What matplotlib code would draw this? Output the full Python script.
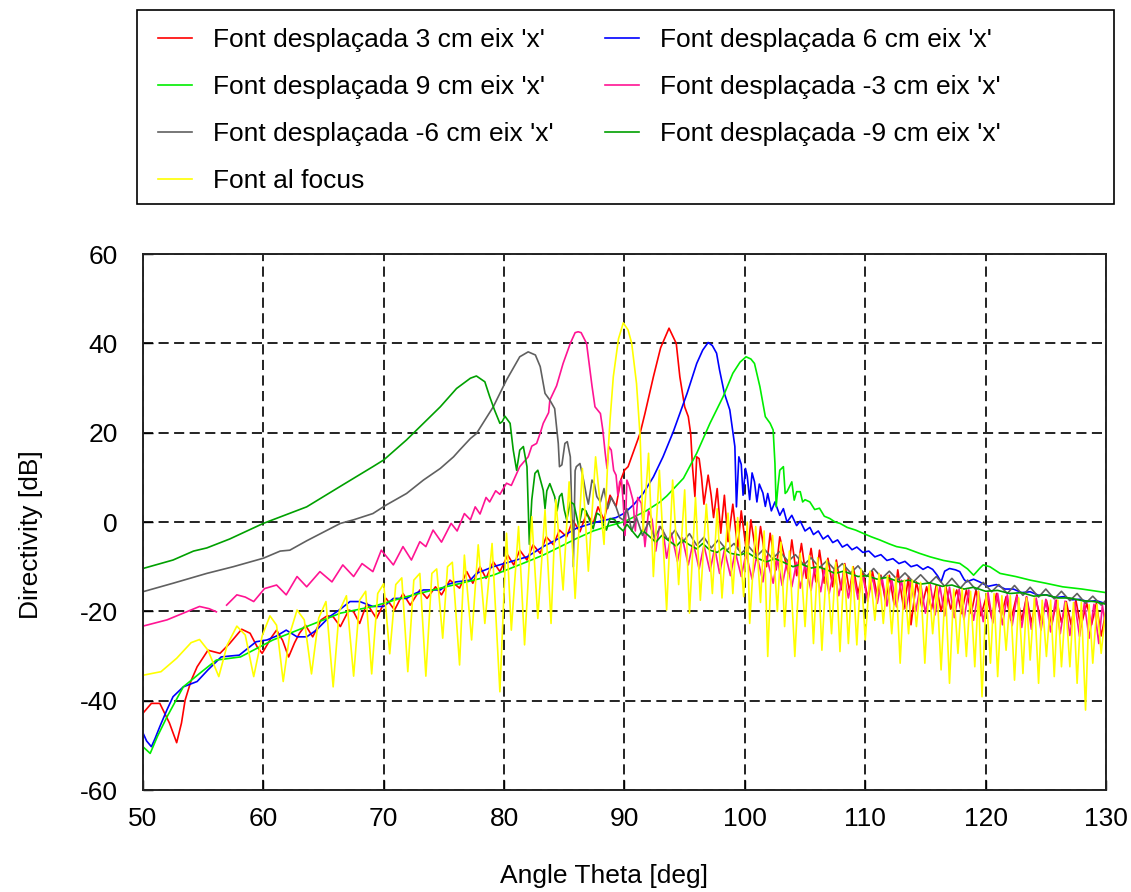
import numpy as np
import matplotlib
matplotlib.use("Agg")
import matplotlib.pyplot as plt
from matplotlib.patches import Rectangle

plt.rcParams['font.family'] = ['Liberation Sans', 'DejaVu Sans']
plt.rcParams['axes.unicode_minus'] = False

# (angle theta [deg], directivity [dB])
red_pts = [(50.0, -42.8), (50.7, -40.6), (51.4, -40.6), (52.2, -45.0), (52.8, -49.4), (53.2, -45.0),
           (53.5, -39.9), (54.0, -35.5), (54.5, -32.4), (55.4, -28.7), (56.4, -29.4), (57.2, -27.2),
           (58.2, -24.0), (58.9, -24.9), (59.5, -28.0), (59.9, -29.4), (60.7, -25.7), (61.1, -24.2),
           (61.6, -26.5), (62.1, -30.2), (62.6, -27.0), (63.0, -24.9), (63.5, -23.1), (64.1, -25.7),
           (64.8, -21.9), (65.3, -21.0), (65.8, -21.2), (66.4, -23.4), (67.1, -19.7), (67.5, -20.1),
           (68.0, -22.7), (68.6, -18.2), (69.4, -21.6), (70.2, -17.1), (70.9, -19.7), (71.6, -16.0),
           (72.2, -18.6), (73.0, -15.2), (73.6, -17.1), (74.3, -14.5), (74.8, -16.3), (75.5, -13.0),
           (76.3, -14.8), (76.9, -11.1), (77.4, -13.7), (78.0, -10.0), (78.5, -12.6), (79.1, -8.9),
           (79.65, -11.1), (80.3, -7.4), (80.8, -9.6), (81.3, -6.3), (81.9, -8.5), (82.4, -5.1),
           (83.0, -7.0), (83.5, -3.3), (84.1, -5.1), (84.6, -1.8), (85.2, -3.3), (85.7, 0.4),
           (86.3, -2.2), (86.85, 1.9), (87.4, -0.3), (87.8, 3.4), (88.3, 0.5), (88.8, 6.0),
           (89.3, 3.5), (89.7, 9.5), (90.0, 11.6), (90.3, 12.4), (90.7, 15.4), (91.3, 19.9),
           (91.7, 24.3), (92.4, 32.5), (93.0, 39.0), (93.7, 43.4), (94.3, 40.0), (94.6, 32.5),
           (95.0, 25.8), (95.3, 23.6), (95.5, 19.8), (95.65, 12.4), (95.85, 5.7), (96.0, 14.6),
           (96.2, 14.2), (96.4, 10.1), (96.6, 4.0), (96.95, 10.5), (97.2, 6.0), (97.4, 1.0),
           (97.7, 7.5), (98.0, -2.5), (98.3, 6.0), (98.6, -4.4), (99.0, 4.0), (99.4, -6.0),
           (99.7, 2.5), (100.2, -8.1), (100.5, 0.5), (101.0, -8.5), (101.3, -1.0), (101.8, -10.0),
           (102.1, -2.5), (102.6, -10.7), (102.9, -3.3), (103.6, -11.5), (103.9, -4.0), (104.3, -12.0),
           (104.7, -4.8), (105.1, -12.6), (105.5, -5.9), (105.9, -13.4), (106.2, -6.3), (106.6, -13.7),
           (106.9, -8.1), (107.3, -14.5), (107.6, -8.5), (108.0, -15.2), (108.3, -9.3), (108.7, -15.6),
           (109.0, -10.0), (109.4, -16.0), (109.8, -11.1), (110.2, -17.0), (110.6, -11.1), (111.0, -16.5),
           (111.3, -11.9), (111.7, -18.0), (112.0, -11.9), (112.4, -18.5), (112.7, -10.7), (113.2, -19.5),
           (113.6, -12.2), (113.8, -23.0), (114.25, -13.4), (114.7, -19.0), (115.1, -14.5), (115.5, -19.5),
           (115.9, -14.1), (116.3, -20.0), (116.7, -14.5), (117.1, -19.5), (117.6, -15.2), (118.0, -20.5),
           (118.4, -15.2), (118.8, -20.5), (119.2, -15.2), (119.6, -21.0), (120.1, -16.3), (120.5, -21.5),
           (120.9, -16.0), (121.3, -21.0), (121.7, -16.7), (122.1, -22.0), (122.6, -16.3), (123.0, -22.0),
           (123.4, -16.7), (123.8, -22.5), (124.2, -17.5), (124.6, -22.0), (125.05, -17.5), (125.5, -23.0),
           (125.9, -17.5), (126.3, -22.5), (126.7, -17.8), (127.1, -23.0), (127.5, -17.5), (127.9, -23.5),
           (128.4, -18.2), (128.8, -23.0), (129.2, -18.2), (129.6, -25.5), (130.0, -20.0)]

blue_pts = [(50.0, -47.2), (50.3, -49.0), (50.7, -50.3), (51.0, -48.5), (51.4, -45.8), (52.0, -42.0),
            (52.5, -39.1), (53.35, -36.9), (54.5, -35.7), (55.4, -33.1), (56.5, -30.2), (57.2, -30.0),
            (58.0, -29.8), (59.4, -26.8), (60.3, -26.4), (61.1, -25.5), (61.9, -24.2), (62.8, -25.7),
            (63.6, -25.7), (64.4, -24.2), (65.5, -21.2), (66.4, -19.5), (67.2, -17.8), (68.0, -17.8),
            (69.1, -18.9), (70.0, -18.9), (70.8, -17.1), (71.9, -17.1), (72.6, -16.0), (73.3, -15.2),
            (74.7, -15.2), (75.3, -14.0), (76.0, -13.4), (77.2, -13.0), (77.7, -11.5), (79.1, -10.0),
            (80.5, -8.9), (81.9, -7.8), (83.25, -5.5), (84.6, -3.6), (86.0, -1.4), (87.4, -0.2),
            (88.5, 0.5), (89.3, 1.0), (90.0, 2.0), (90.8, 4.0), (91.55, 6.4), (92.4, 10.1),
            (93.2, 14.6), (94.05, 20.2), (94.6, 24.3), (95.2, 28.8), (96.0, 35.5), (96.5, 38.5),
            (96.95, 40.2), (97.3, 39.5), (97.65, 37.8), (97.9, 34.0), (98.3, 28.8), (98.75, 25.1),
            (98.98, 20.6), (99.17, 16.9), (99.3, 3.4), (99.5, 14.6), (99.7, 12.9), (99.85, 6.0),
            (100.05, 12.0), (100.2, 10.2), (100.4, 5.0), (100.6, 11.0), (100.8, 9.0), (101.0, 4.5),
            (101.2, 8.5), (101.5, 6.5), (101.7, 3.5), (101.9, 6.4), (102.2, 2.5), (102.5, 4.5),
            (102.9, 1.5), (103.2, 3.0), (103.5, 0.0), (103.9, 1.5), (104.3, -0.8), (104.6, 0.2),
            (105.0, -2.0), (105.4, -1.2), (105.7, -2.8), (106.1, -2.0), (106.5, -3.8), (106.9, -3.0),
            (107.3, -4.6), (107.7, -4.0), (108.1, -5.6), (108.5, -5.0), (108.9, -6.2), (109.3, -5.6),
            (109.8, -6.8), (110.3, -6.5), (110.8, -7.8), (111.3, -7.3), (111.8, -8.6), (112.3, -8.2),
            (112.8, -9.3), (113.3, -8.8), (113.8, -10.0), (114.3, -9.6), (114.8, -10.6), (115.2, -10.0),
            (115.6, -10.6), (116.0, -12.0), (116.3, -13.4), (116.6, -11.0), (117.0, -10.4), (117.5, -10.7),
            (117.85, -11.1), (118.2, -12.8), (118.4, -13.4), (119.0, -12.8), (119.5, -13.4), (120.2, -14.4),
            (120.9, -14.0), (121.6, -15.0), (122.3, -15.0), (123.0, -15.8), (123.7, -15.6), (124.4, -16.4),
            (125.05, -16.3), (125.8, -16.9), (126.5, -16.7), (127.2, -17.4), (127.8, -17.3), (128.5, -17.8),
            (129.2, -17.6), (130.0, -18.3)]

green_pts = [(50.0, -50.3), (50.6, -51.8), (51.2, -48.0), (52.0, -43.6), (53.35, -36.9), (54.7, -33.9),
             (56.1, -30.9), (58.1, -30.2), (60.8, -26.4), (63.6, -23.4), (66.4, -20.4), (69.1, -18.9),
             (71.9, -16.7), (74.7, -14.8), (77.2, -13.2), (79.1, -11.9), (80.5, -10.4), (81.9, -8.9),
             (83.25, -7.4), (84.6, -5.6), (86.0, -3.7), (87.4, -2.0), (88.8, -0.8), (90.0, 0.1),
             (91.8, 2.5), (92.9, 4.4), (93.5, 5.8), (94.9, 9.8), (96.0, 15.4), (97.1, 22.1),
             (98.2, 28.1), (99.0, 33.3), (99.6, 35.8), (100.1, 37.0), (100.5, 36.5), (100.8, 35.5),
             (101.25, 30.3), (101.7, 23.6), (102.1, 22.1), (102.35, 20.6), (102.5, 13.1), (102.6, 3.4),
             (102.75, 8.0), (102.9, 11.6), (103.2, 12.4), (103.35, 6.4), (103.5, 6.8), (103.9, 9.0),
             (104.1, 4.9), (104.3, 6.8), (104.6, 6.8), (104.8, 4.5), (105.0, 5.0), (105.4, 4.5),
             (105.8, 2.8), (106.2, 3.1), (106.6, 1.3), (107.05, 0.8), (107.5, 0.0), (107.9, -0.3),
             (108.5, -1.2), (109.2, -1.8), (109.8, -2.5), (110.5, -3.3), (111.2, -4.0), (112.0, -4.9),
             (112.6, -5.5), (113.4, -5.9), (114.5, -7.0), (115.4, -7.8), (116.5, -8.6), (117.85, -9.25),
             (118.5, -10.5), (119.0, -11.9), (119.5, -10.4), (119.8, -9.6), (120.35, -10.0), (121.2, -11.5),
             (122.5, -12.2), (123.7, -13.0), (125.0, -13.7), (126.4, -14.5), (128.0, -15.0), (130.0, -15.8)]

pink_pts = [(50.0, -23.3), (51.0, -22.6), (52.0, -21.9), (53.35, -20.4), (54.7, -18.9), (55.5, -19.4),
            (56.1, -20.1), (56.6, float('nan')), (56.95, -18.6), (57.8, -16.3), (58.5, -16.8), (59.2, -17.8),
            (60.1, -14.9), (61.1, -14.1), (61.9, -16.3), (62.8, -12.2), (63.6, -14.5), (64.7, -11.1),
            (65.7, -13.4), (66.6, -9.6), (67.5, -12.2), (68.2, -9.3), (69.1, -11.1), (69.8, -6.3),
            (70.8, -9.6), (71.6, -5.5), (72.3, -8.5), (73.0, -4.4), (73.5, -5.5), (74.1, -1.8),
            (74.8, -4.5), (75.6, -0.3), (76.1, -2.0), (76.7, 1.9), (77.2, 0.5), (77.6, 3.4),
            (78.0, 1.8), (78.5, 5.5), (78.8, 4.5), (79.3, 7.0), (79.65, 6.2), (80.2, 8.7),
            (80.6, 8.2), (81.3, 12.4), (82.0, 14.6), (82.3, 17.0), (82.7, 17.6), (83.0, 19.9),
            (83.25, 22.1), (83.7, 24.5), (83.8, 27.3), (84.36, 30.5), (84.9, 35.5), (85.5, 40.0),
            (85.9, 42.4), (86.15, 42.6), (86.4, 42.4), (86.85, 40.0), (87.1, 34.8), (87.3, 30.5),
            (87.55, 25.8), (88.0, 24.3), (88.2, 20.6), (88.4, 15.4), (88.55, 12.0), (88.7, 16.9),
            (88.9, 16.1), (89.1, 11.6), (89.3, 10.5), (89.45, 6.0), (89.6, 9.0), (89.75, 9.5),
            (89.9, 4.2), (90.05, -3.0), (90.2, 9.4), (90.4, 8.0), (90.7, 4.9), (90.9, -2.0),
            (91.1, 5.5), (91.4, 4.2), (91.7, -5.5), (92.0, 2.5), (92.3, 0.5), (92.6, -6.5),
            (92.9, -1.0), (93.2, -1.8), (93.5, -8.1), (93.9, -2.5), (94.4, -8.8), (94.8, -3.5),
            (95.3, -9.6), (95.7, -4.5), (96.2, -10.5), (96.6, -5.2), (97.1, -11.0), (97.5, -5.8),
            (97.9, -11.5), (98.3, -6.2), (98.8, -12.0), (99.2, -6.6), (99.7, -12.2), (100.1, -7.0),
            (100.6, -12.8), (101.0, -7.4), (101.5, -13.4), (101.8, -7.7), (102.35, -13.7), (102.7, -8.2),
            (103.1, -14.2), (103.5, -8.7), (103.9, -14.5), (104.3, -9.0), (104.6, -14.8), (105.0, -9.5),
            (105.5, -15.3), (105.8, -10.0), (106.3, -15.6), (106.6, -10.4), (107.0, -16.0), (107.4, -10.8),
            (107.8, -16.5), (108.2, -11.3), (108.6, -17.0), (109.0, -11.6), (109.4, -17.3), (109.8, -12.0),
            (110.2, -17.8), (110.6, -12.2), (111.0, -18.2), (111.4, -12.5), (111.8, -18.8), (112.2, -12.8),
            (112.6, -19.0), (113.0, -13.0), (113.4, -19.4), (113.8, -13.4), (114.2, -20.0), (114.6, -13.8),
            (115.0, -20.4), (115.4, -14.0), (115.8, -20.8), (116.2, -14.3), (116.6, -21.0), (117.0, -14.6),
            (117.4, -21.4), (117.8, -15.0), (118.2, -21.8), (118.6, -15.2), (119.0, -22.0), (119.4, -15.5),
            (119.8, -22.3), (120.2, -15.8), (120.6, -22.6), (121.0, -16.0), (121.4, -23.0), (121.8, -16.3),
            (122.2, -23.2), (122.6, -16.6), (123.0, -23.6), (123.4, -16.8), (123.8, -24.0), (124.2, -17.0),
            (124.6, -24.2), (125.0, -17.3), (125.4, -24.6), (125.8, -17.5), (126.2, -25.0), (126.6, -17.7),
            (127.0, -25.4), (127.4, -18.0), (127.8, -25.6), (128.2, -18.2), (128.6, -26.0), (129.0, -18.4),
            (129.4, -27.2), (129.7, -18.6), (130.0, -24.0)]

grey_pts = [(50.0, -15.6), (52.5, -13.7), (55.3, -11.5), (57.5, -10.0), (60.0, -8.1), (61.4, -6.5),
            (62.2, -6.3), (63.6, -4.2), (66.4, -0.3), (67.5, 0.5), (69.1, 1.9), (70.2, 3.8),
            (71.9, 6.4), (73.3, 9.4), (74.7, 12.0), (75.8, 14.6), (76.3, 16.1), (77.2, 18.7),
            (77.7, 19.8), (79.1, 25.8), (80.2, 31.8), (81.3, 37.0), (82.0, 38.1), (82.6, 37.4),
            (83.0, 34.8), (83.4, 28.8), (83.8, 27.3), (84.2, 25.4), (84.5, 17.6), (84.6, 12.4),
            (84.8, 12.8), (85.05, 17.6), (85.25, 18.0), (85.5, 14.6), (85.75, -10.0), (85.9, 11.5),
            (86.0, 12.4), (86.3, 13.1), (86.6, 9.4), (86.85, 5.7), (87.0, 4.0), (87.3, 9.4),
            (87.5, 8.5), (87.7, 5.7), (88.0, 4.5), (88.3, 7.5), (88.6, 3.0), (88.9, 5.5),
            (89.3, 3.4), (89.6, 1.0), (89.9, 0.45), (90.2, 3.0), (90.6, -2.0), (91.0, 1.0),
            (91.5, -3.0), (92.0, 0.0), (92.5, -3.5), (93.0, -1.0), (93.6, -4.0), (94.2, -1.8),
            (94.8, -4.6), (95.4, -2.6), (96.0, -5.2), (96.6, -3.4), (97.2, -5.8), (97.8, -4.0),
            (98.5, -6.3), (99.1, -4.8), (99.7, -7.0), (100.3, -5.4), (101.0, -7.6), (101.6, -6.0),
            (102.3, -8.2), (102.9, -6.6), (103.6, -8.8), (104.2, -7.3), (104.9, -9.6), (105.5, -8.0),
            (106.2, -10.2), (106.8, -8.7), (107.5, -10.8), (108.1, -9.3), (108.8, -11.4), (109.4, -9.8),
            (110.1, -12.2), (110.7, -10.4), (111.4, -12.6), (112.0, -11.0), (112.7, -13.0), (113.3, -11.4),
            (114.0, -13.4), (114.6, -11.8), (115.3, -13.8), (115.9, -12.2), (116.6, -14.4), (117.2, -12.6),
            (117.9, -14.8), (118.5, -13.0), (119.2, -15.2), (119.8, -13.5), (120.5, -15.6), (121.1, -14.0),
            (121.8, -16.0), (122.4, -14.2), (123.1, -16.4), (123.7, -14.6), (124.4, -16.8), (125.0, -15.0),
            (125.7, -17.2), (126.3, -15.5), (127.0, -17.6), (127.6, -16.0), (128.3, -18.2), (128.9, -16.6),
            (129.6, -18.6), (130.0, -17.5)]

dkgreen_pts = [(50.0, -10.4), (52.5, -8.5), (54.2, -6.5), (55.3, -5.8), (57.2, -3.8), (60.0, -0.3),
               (63.6, 3.4), (66.4, 8.0), (69.1, 12.4), (70.0, 13.9), (71.9, 18.4), (73.3, 22.1),
               (74.7, 25.8), (76.05, 29.9), (77.2, 32.2), (77.7, 32.7), (78.4, 31.4), (78.8, 28.1),
               (79.2, 25.1), (79.65, 22.1), (79.85, 22.5), (80.07, 23.7), (80.5, 22.1), (80.76, 16.1),
               (81.04, 11.6), (81.3, 16.1), (81.6, 16.9), (81.9, 12.4), (82.1, -5.0), (82.3, 5.0),
               (82.56, 10.9), (82.8, 11.6), (83.25, 7.1), (83.4, 3.0), (83.55, 7.0), (83.8, 8.6),
               (84.2, 5.7), (84.4, 2.5), (84.6, 5.7), (84.8, 6.4), (85.0, 2.7), (85.2, 0.5),
               (85.5, 4.5), (85.8, 4.0), (86.0, 1.5), (86.2, -1.0), (86.5, 3.0), (86.8, 2.5),
               (87.1, 0.45), (87.4, -1.5), (87.7, 2.0), (88.0, 1.5), (88.2, -0.3), (88.5, -1.8),
               (88.8, 0.8), (89.2, 0.5), (89.5, -1.0), (89.9, -2.0), (90.2, -0.5), (90.7, -2.2),
               (91.1, -3.5), (91.5, -1.8), (92.1, -3.3), (92.6, -4.5), (93.1, -3.0), (93.8, -4.4),
               (94.3, -5.4), (94.8, -4.0), (95.4, -5.1), (96.0, -6.0), (96.5, -4.8), (97.1, -6.3),
               (97.7, -6.8), (98.2, -5.8), (98.8, -7.0), (99.6, -7.4), (100.2, -6.8), (100.9, -8.0),
               (101.8, -8.9), (102.5, -8.2), (103.2, -9.0), (104.0, -10.0), (104.7, -9.4), (105.5, -10.3),
               (106.1, -10.0), (106.8, -10.7), (107.5, -11.5), (108.2, -11.0), (109.4, -12.2), (110.1, -12.0),
               (111.0, -12.8), (111.8, -12.4), (112.8, -13.4), (113.6, -13.0), (114.6, -13.9), (115.4, -13.6),
               (116.4, -14.4), (117.2, -14.1), (118.2, -15.0), (119.0, -14.6), (120.0, -15.5), (121.0, -15.3),
               (122.0, -16.0), (123.0, -15.8), (124.0, -16.6), (125.0, -16.3), (126.0, -17.0), (127.0, -17.0),
               (128.0, -17.6), (129.0, -17.8), (130.0, -18.4)]

yellow_pts = [(50.0, -34.3), (51.5, -33.5), (52.8, -30.5), (54.0, -27.0), (54.7, -26.3), (55.4, -28.7),
              (56.3, -34.6), (57.0, -27.5), (57.8, -23.3), (58.5, -25.3), (59.2, -34.6), (59.9, -25.5),
              (60.55, -21.0), (61.1, -23.1), (61.65, -35.7), (62.2, -25.0), (62.8, -19.7), (63.4, -21.9),
              (64.0, -34.0), (64.6, -21.5), (65.2, -17.8), (65.8, -36.9), (66.3, -20.0), (66.9, -16.5),
              (67.5, -34.5), (68.0, -17.5), (68.5, -15.5), (69.0, -34.0), (69.5, -16.0), (70.0, -13.8),
              (70.5, -29.5), (71.0, -14.0), (71.5, -12.5), (72.0, -33.5), (72.5, -13.0), (73.0, -11.5),
              (73.5, -34.5), (74.0, -11.5), (74.4, -10.5), (74.9, -26.0), (75.3, -10.0), (75.7, -9.0),
              (76.3, -32.0), (76.7, -7.4), (77.3, -26.4), (77.85, -5.1), (78.4, -22.7), (79.0, -4.8),
              (79.65, -38.0), (80.2, -2.5), (80.6, -24.2), (81.2, -1.0), (81.7, -27.5), (82.3, 1.2),
              (82.8, -21.6), (83.4, 2.7), (83.9, -22.7), (84.3, 5.0), (84.9, -15.2), (85.4, 9.0),
              (85.9, -17.1), (86.5, 12.0), (87.0, -11.0), (87.6, 14.6), (88.3, -5.0), (88.65, 16.1),
              (88.8, 22.8), (89.07, 32.5), (89.5, 41.0), (89.9, 44.6), (90.3, 43.0), (90.6, 40.0),
              (91.0, 31.0), (91.3, 19.1), (91.55, -2.0), (92.0, 15.4), (92.4, -12.2), (92.9, 11.6),
              (93.5, -19.7), (94.0, 9.4), (94.5, -14.0), (95.0, 7.2), (95.4, -20.4), (95.9, 5.5),
              (96.3, -17.5), (96.8, 4.0), (97.3, -16.0), (97.7, 3.0), (98.1, -17.0), (98.6, 2.0),
              (99.0, -16.0), (99.4, 1.0), (99.9, -16.7), (100.2, 0.0), (100.4, -22.7), (100.9, -1.0),
              (101.3, -18.0), (101.6, -2.0), (101.9, -30.1), (102.3, -3.0), (102.7, -20.0), (103.0, -4.5),
              (103.3, -23.4), (103.7, -6.5), (104.15, -30.1), (104.6, -7.0), (105.0, -23.4), (105.35, -7.5),
              (105.7, -27.2), (106.05, -8.0), (106.4, -28.7), (106.8, -8.5), (107.2, -25.0), (107.55, -9.0),
              (107.9, -29.0), (108.25, -9.5), (108.6, -27.2), (108.95, -10.0), (109.3, -27.5), (109.65, -10.5),
              (110.0, -26.4), (110.4, -11.0), (110.8, -22.0), (111.15, -11.5), (111.5, -22.7), (111.85, -12.0),
              (112.2, -25.0), (112.55, -12.5), (112.9, -31.6), (113.25, -13.0), (113.6, -25.0), (113.9, -13.0),
              (114.25, -23.4), (114.6, -13.5), (114.95, -31.6), (115.3, -14.0), (115.6, -25.0), (115.95, -14.5),
              (116.3, -33.1), (116.65, -14.5), (117.0, -36.1), (117.35, -15.0), (117.7, -29.4), (118.05, -15.0),
              (118.4, -30.1), (118.75, -15.5), (119.1, -32.4), (119.4, -15.5), (119.7, -39.1), (120.05, -16.0),
              (120.4, -31.6), (120.7, -16.0), (121.0, -34.6), (121.35, -16.5), (121.7, -28.7), (122.05, -16.5),
              (122.4, -35.4), (122.75, -17.0), (123.1, -33.9), (123.4, -17.0), (123.7, -30.9), (124.05, -17.0),
              (124.4, -36.1), (124.7, -17.5), (125.05, -30.1), (125.4, -17.5), (125.7, -34.6), (126.0, -17.5),
              (126.3, -32.4), (126.65, -18.0), (127.0, -32.4), (127.3, -18.0), (127.6, -36.1), (127.95, -18.0),
              (128.3, -42.1), (128.6, -18.5), (128.9, -31.6), (129.25, -18.5), (129.6, -29.4), (130.0, -19.0)]

labels = ["Font desplaçada 3 cm eix 'x'", "Font desplaçada 6 cm eix 'x'",
          "Font desplaçada 9 cm eix 'x'", "Font desplaçada -3 cm eix 'x'",
          "Font desplaçada -6 cm eix 'x'", "Font desplaçada -9 cm eix 'x'",
          "Font al focus"]
colors = ['#ff0000', '#0000ff', '#00ee00', '#ff1493', '#606060', '#00a000', '#ffff00']
series = [red_pts, blue_pts, green_pts, pink_pts, grey_pts, dkgreen_pts, yellow_pts]

fig = plt.figure(figsize=(11.31, 8.92), dpi=100)
ax = fig.add_axes([0.1264, 0.1143, 0.8515, 0.6009])

lines = []
for pts, c, lab in zip(series, colors, labels):
    a = np.array(pts, dtype=float)
    ln, = ax.plot(a[:, 0], a[:, 1], color=c, lw=1.2, label=lab)
    lines.append(ln)

ax.set_xlim(50, 130)
ax.set_ylim(-60, 60)
ax.set_xticks(np.arange(50, 131, 10))
ax.set_yticks(np.arange(-60, 61, 20))
ax.set_axisbelow(True)
ax.grid(True, color='#222222', linestyle=(0, (5.2, 2.8)), linewidth=1.4)
ax.tick_params(direction='in', length=7, width=1, labelsize=19)
ax.tick_params(axis='y', pad=18)
ax.tick_params(axis='x', pad=12)
for s in ax.spines.values():
    s.set_linewidth(1.4)
    s.set_color('#222222')

ax.set_xlabel('Angle Theta [deg]', fontsize=19)
ax.set_ylabel('Directivity [dB]', fontsize=19)
ax.xaxis.set_label_coords(0.479, -0.138)
ax.yaxis.set_label_coords(-0.104, 0.476)

# legend laid out row by row like the original (2 columns)
order = [0, 2, 4, 6, 1, 3, 5]
fig.legend([lines[i] for i in order], [labels[i] for i in order], ncol=2,
           loc='upper left', bbox_to_anchor=(0.1397, 0.9686), fontsize=19,
           frameon=False, handlelength=1.29, handletextpad=0.8,
           columnspacing=1.93, labelspacing=0.87, borderpad=0, borderaxespad=0)
fig.patches.append(Rectangle((0.1211, 0.7713), 0.8639, 0.2175, transform=fig.transFigure,
                             fill=False, edgecolor='black', linewidth=1.2))

fig.savefig('out.png', dpi=100)
